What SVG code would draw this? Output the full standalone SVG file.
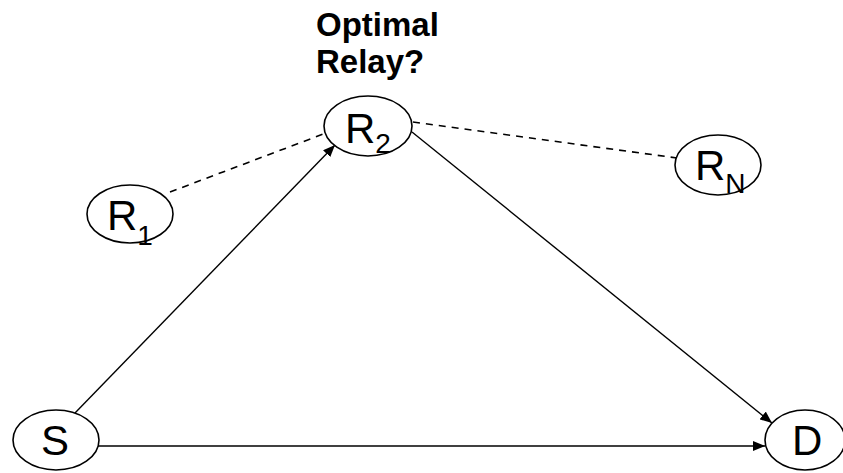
<svg xmlns="http://www.w3.org/2000/svg" width="843" height="473" viewBox="0 0 843 473">
<defs>
<style>
.node ellipse{fill:#fff;stroke:#000;stroke-width:1.6}
.lbl{font-family:"Liberation Sans",Arial,sans-serif;font-size:42px;fill:#000}
.sub{font-size:28px}
.title{font-family:"Liberation Sans",Arial,sans-serif;font-size:33px;font-weight:bold;fill:#000}
.solid{stroke:#000;stroke-width:1.4;fill:none;marker-end:url(#arr)}
.dash{stroke:#000;stroke-width:1.6;fill:none;stroke-dasharray:7 6}
</style>
<marker id="arr" viewBox="0 0 12 10" refX="12" refY="5" markerWidth="12" markerHeight="10" markerUnits="userSpaceOnUse" orient="auto">
<path d="M0,0 L12,5 L0,10 z" fill="#000"/>
</marker>
</defs>
<rect width="843" height="473" fill="#fff"/>
<g id="connectors">
<line class="dash" x1="170" y1="192" x2="326" y2="133"/>
<line class="dash" x1="413" y1="122" x2="677" y2="158"/>
<line class="solid" x1="75" y1="413" x2="335" y2="145"/>
<line class="solid" x1="412" y1="132" x2="772" y2="423"/>
<line class="solid" x1="98" y1="446" x2="765" y2="446"/>
</g>
<g id="title">
<text class="title" x="316" y="36">Optimal</text>
<text class="title" x="316" y="73">Relay?</text>
</g>
<g id="R2" class="node">
<ellipse cx="368" cy="126" rx="44" ry="30"/>
<text class="lbl" x="345" y="143">R<tspan class="sub" dy="10">2</tspan></text>
</g>
<g id="R1" class="node">
<ellipse cx="130" cy="214" rx="43" ry="29"/>
<text class="lbl" x="107" y="230">R<tspan class="sub" dy="15">1</tspan></text>
</g>
<g id="RN" class="node">
<ellipse cx="718" cy="165" rx="43" ry="30"/>
<text class="lbl" x="695" y="180">R<tspan class="sub" dy="13">N</tspan></text>
</g>
<g id="S" class="node">
<ellipse cx="56" cy="440" rx="43" ry="30"/>
<text class="lbl" x="41" y="455">S</text>
</g>
<g id="D" class="node">
<ellipse cx="805" cy="440" rx="40" ry="30"/>
<text class="lbl" x="792" y="455">D</text>
</g>
</svg>
